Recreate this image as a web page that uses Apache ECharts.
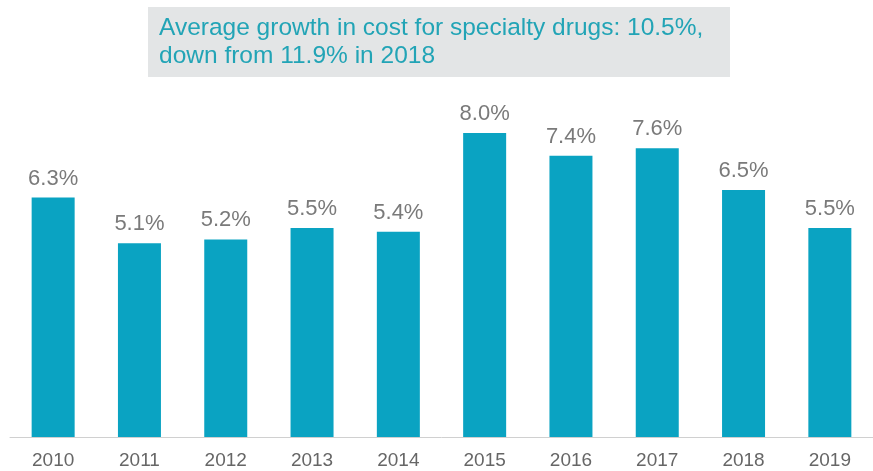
<!DOCTYPE html>
<html><head><meta charset="utf-8">
<script src="https://cdn.jsdelivr.net/npm/echarts@6/dist/echarts.min.js"></script>
<style>html,body{margin:0;padding:0;background:#fff}#c{width:873px;height:471px}</style>
</head><body><div id="c"></div>
<script>
const years = ['2010','2011','2012','2013','2014','2015','2016','2017','2018','2019'];
const growth = [6.3, 5.1, 5.2, 5.5, 5.4, 8.0, 7.4, 7.6, 6.5, 5.5];
const titleLines = ['Average growth in cost for specialty drugs: 10.5%,', 'down from 11.9% in 2018'];

const chart = echarts.init(document.getElementById('c'));
chart.setOption({
  animation: false,
  graphic: [
    { type: 'rect', left: 148, top: 7, shape: { width: 582, height: 70 }, style: { fill: '#e3e5e6' }, z: 0 },
    { type: 'text', left: 159, top: 14, z: 1,
      style: { text: titleLines.join('\n'), fill: '#22a4b6', font: '24.5px "Liberation Sans", Arial, sans-serif', lineHeight: 28 } }
  ],
  grid: { left: 10, top: 57, width: 872, height: 380 },
  xAxis: {
    type: 'category', data: years,
    axisLine: { lineStyle: { color: '#d0d0d0', width: 1 } },
    axisTick: { show: false },
    axisLabel: { color: '#666', fontSize: 19, margin: 14, fontFamily: '"Liberation Sans", Arial, sans-serif' }
  },
  yAxis: { type: 'value', min: 0, max: 10, show: false, splitLine: { show: false } },
  series: [{
    type: 'bar', data: growth, barWidth: 43,
    itemStyle: { color: '#0aa3c2' },
    label: { show: true, position: 'top', distance: 8, color: '#7a7a7a', fontSize: 22,
      fontFamily: '"Liberation Sans", Arial, sans-serif',
      formatter: p => p.value.toFixed(1) + '%' }
  }]
});
</script></body></html>
